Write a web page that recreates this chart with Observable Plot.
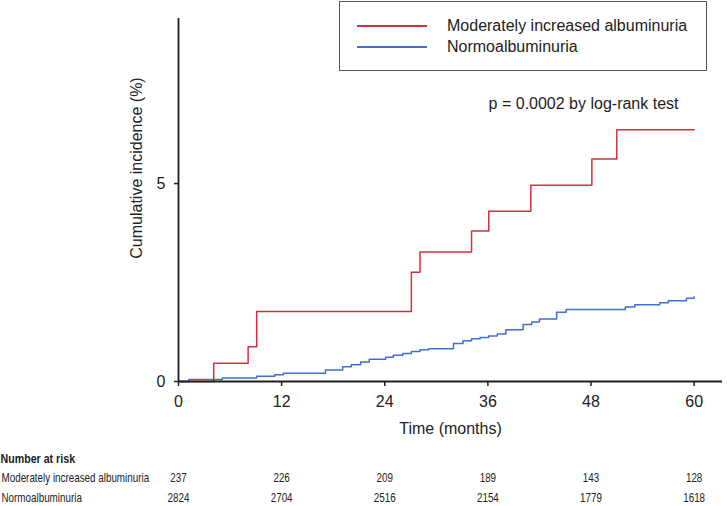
<!DOCTYPE html>
<html>
<head>
<meta charset="utf-8">
<script src="https://cdn.jsdelivr.net/npm/d3@7"></script>
<script src="https://cdn.jsdelivr.net/npm/@observablehq/plot@0.6"></script>
<style>
  body { margin: 0; background: #fff; font-family: "Liberation Sans", Arial, sans-serif; }
  #wrap { position: relative; width: 727px; height: 506px; overflow: hidden; background: #fff; }
  #wrap svg { display: block; }
  #legend { position: absolute; left: 339px; top: 1px; width: 368px; height: 70px; box-sizing: border-box;
            border: 1px solid #555; background: #fff; }
  .sw { position: absolute; left: 17px; width: 70px; height: 2px; }
  .lt { position: absolute; left: 107px; font-size: 16px; line-height: 20px; color: #222; white-space: nowrap; }
</style>
</head>
<body>
<div id="wrap">
  <div id="main"></div>
  <div id="table"></div>
  <div id="legend"></div>
</div>
<script>
// ---- data ----
const seriesNames = ["Moderately increased albuminuria", "Normoalbuminuria"];
const seriesColors = ["#d4303f", "#3f6fd6"];

const redTime = [0, 4.1, 8.1, 9.1, 27.1, 28.1, 34.1, 36.1, 41.0, 48.1, 51.0, 60];
const redInc  = [0, 0.46, 0.88, 1.77, 2.76, 3.27, 3.80, 4.30, 4.96, 5.62, 6.36, 6.36];

const blueTime = [0, 1.2, 5.1, 9.1, 11.2, 12.2, 17.1, 19.1, 20.1, 21.2, 22.2, 24.1, 25.0, 26.1, 27.1,
                  28.1, 29.1, 32.0, 33.1, 34.1, 35.1, 36.1, 37.1, 38.1, 40.1, 41.1, 42.0, 44.0, 45.1,
                  52.0, 53.1, 56.0, 57.0, 59.1, 60];
const blueInc  = [0, 0.05, 0.09, 0.13, 0.17, 0.21, 0.29, 0.37, 0.42, 0.49, 0.56, 0.61, 0.66, 0.71, 0.76,
                  0.80, 0.83, 0.96, 1.03, 1.08, 1.11, 1.15, 1.20, 1.31, 1.44, 1.50, 1.58, 1.75, 1.82,
                  1.88, 1.94, 1.99, 2.04, 2.10, 2.14];

const xTicks = [0, 12, 24, 36, 48, 60];
const yTicks = [0, 5];

const riskTimes    = [0, 12, 24, 36, 48, 60];
const riskModerate = [237, 226, 209, 189, 143, 128];
const riskNormo    = [2824, 2704, 2516, 2154, 1779, 1618];
const riskHeader = "Number at risk";

const xLabel = "Time (months)";
const yLabel = "Cumulative incidence (%)";
const pText = "p = 0.0002 by log-rank test";

// ---- build tables ----
const red = redTime.map((t, i) => ({t, v: redInc[i]}));
const blue = blueTime.map((t, i) => ({t, v: blueInc[i]}));

const axisColor = "#1e1e1e";
const xDomain = [0, 63.3];

const main = Plot.plot({
  width: 727, height: 440,
  marginLeft: 178, marginRight: 5, marginTop: 18, marginBottom: 59,
  x: {domain: xDomain},
  y: {domain: [0, 9.17]},
  style: {fontFamily: '"Liberation Sans", Arial, sans-serif', fontSize: "16px", color: "#222", background: "transparent"},
  marks: [
    Plot.axisX({ticks: xTicks, tickSize: 5, tickPadding: 9, fontSize: 16, stroke: axisColor, strokeWidth: 1.5,
                label: xLabel, labelAnchor: "center", labelOffset: 52, labelArrow: "none", tickFormat: d => d}),
    Plot.axisY({ticks: yTicks, tickSize: 4, tickPadding: 9, fontSize: 16, stroke: axisColor, strokeWidth: 1.5,
                label: null, tickFormat: d => d}),
    Plot.line(blue, {x: "t", y: "v", curve: "step-after", stroke: seriesColors[1], strokeWidth: 1.5}),
    Plot.line(red, {x: "t", y: "v", curve: "step-after", stroke: seriesColors[0], strokeWidth: 1.5}),
    Plot.ruleY([0], {stroke: axisColor, strokeWidth: 1.8}),
    Plot.ruleX([0], {stroke: axisColor, strokeWidth: 1.8}),
    Plot.text([yLabel], {frameAnchor: "left", textAnchor: "middle", rotate: -90, dx: -42, dy: -32, fontSize: 16, fill: "#222"}),
    Plot.text([pText], {frameAnchor: "top-right", textAnchor: "end", dx: -44, dy: 79, fontSize: 16, fill: "#222"})
  ]
});
document.getElementById("main").appendChild(main);

const rows = [riskHeader, seriesNames[0], seriesNames[1]];
const riskData = [];
riskTimes.forEach((t, i) => {
  riskData.push({t, row: seriesNames[0], n: riskModerate[i]});
  riskData.push({t, row: seriesNames[1], n: riskNormo[i]});
});

const table = Plot.plot({
  width: 727, height: 66,
  marginLeft: 178, marginRight: 5, marginTop: 17, marginBottom: 8,
  x: {domain: xDomain, axis: null},
  y: {type: "point", domain: rows, axis: null, padding: 0},
  style: {fontFamily: '"Liberation Sans", Arial, sans-serif', fontSize: "12px", color: "#222", background: "transparent"},
  marks: [
    Plot.text([riskHeader], {y: d => d, frameAnchor: "left", textAnchor: "start", dx: -178, fontWeight: "bold", fontSize: 13, fill: "#222"}),
    Plot.text(seriesNames, {y: d => d, frameAnchor: "left", textAnchor: "start", dx: -177, fontSize: 12, fill: "#222"}),
    Plot.text(riskData, {x: "t", y: "row", text: d => String(d.n), fontSize: 12, fill: "#222"})
  ]
});
document.getElementById("table").appendChild(table);
// emulate the condensed (narrow) face of the reference's table text:
// squeeze each text horizontally about its own anchor point
const squeeze = 0.82;
table.querySelectorAll("text").forEach(el => {
  const x0 = parseFloat(el.getAttribute("x")) || 0;
  const prev = el.getAttribute("transform") || "";
  el.setAttribute("transform", `${prev} translate(${x0},0) scale(${squeeze},1) translate(${-x0},0)`.trim());
});

// ---- legend ----
const legend = document.getElementById("legend");
const rowY = [23, 44];
seriesNames.forEach((name, i) => {
  const sw = document.createElement("div");
  sw.className = "sw";
  sw.style.top = rowY[i] + "px";
  sw.style.background = seriesColors[i];
  legend.appendChild(sw);
  const lt = document.createElement("div");
  lt.className = "lt";
  lt.style.top = (rowY[i] - 9) + "px";
  lt.textContent = name;
  legend.appendChild(lt);
});
</script>
</body>
</html>
